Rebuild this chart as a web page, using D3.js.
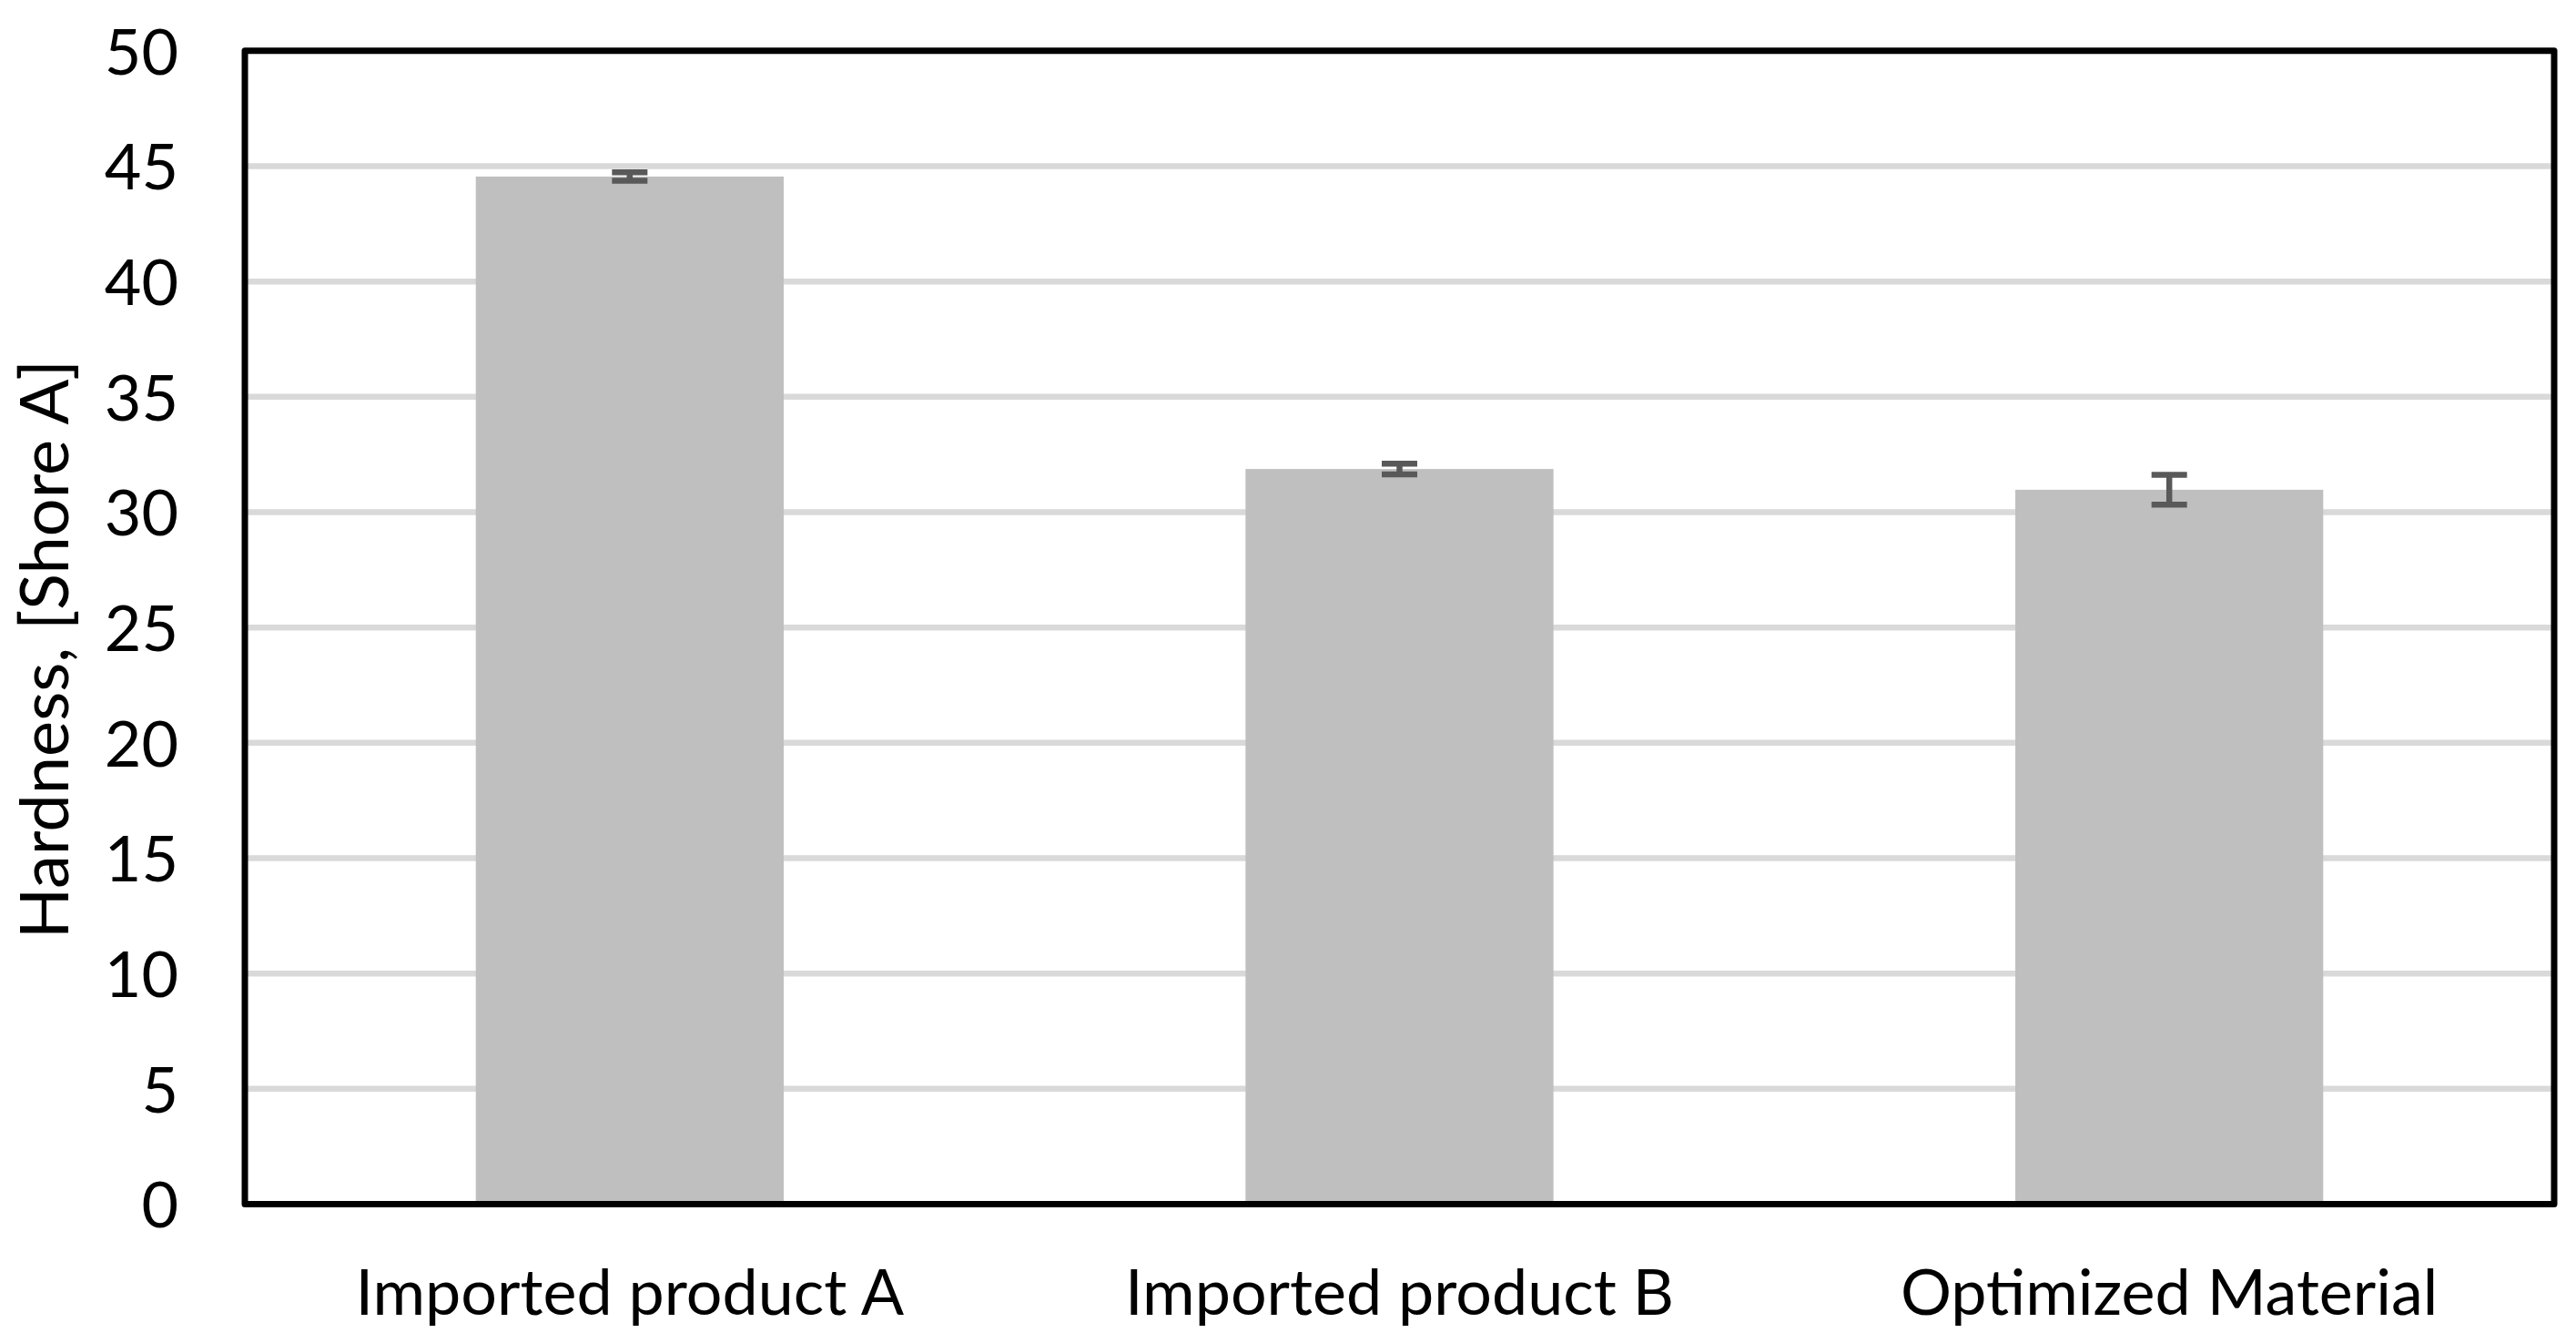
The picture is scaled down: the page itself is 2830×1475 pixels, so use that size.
<!DOCTYPE html>
<html>
<head>
<meta charset="utf-8">
<script src="https://cdn.jsdelivr.net/npm/d3@7"></script>
<style>
  html, body { margin: 0; padding: 0; background: #ffffff; }
  svg { display: block; }
  text { font-family: Lato, "Open Sans", sans-serif; fill: #000; }
</style>
</head>
<body>
<svg id="chart" width="2830" height="1475"></svg>
<script>
const categories = ["Imported product A", "Imported product B", "Optimized Material"];
const hardness = [44.55, 31.87, 30.97];
const hardnessErr = [0.18, 0.23, 0.65];
const yTicks = [0, 5, 10, 15, 20, 25, 30, 35, 40, 45, 50];
const yLabel = "Hardness, [Shore A]";

const W = 2830, H = 1475;
const margin = { left: 269, right: 2830 - 2806, top: 55.8, bottom: 1475 - 1322.5 };
const svg = d3.select("#chart");

const x = d3.scaleBand()
  .domain(categories)
  .range([margin.left, W - margin.right])
  .paddingInner(0.6)
  .paddingOuter(0.3);

const y = d3.scaleLinear().domain([0, 50]).range([H - margin.bottom, margin.top]);

// gridlines
svg.append("g")
  .selectAll("line")
  .data(yTicks.filter(d => d > 0 && d < 50))
  .join("line")
  .attr("x1", margin.left).attr("x2", W - margin.right)
  .attr("y1", d => y(d)).attr("y2", d => y(d))
  .attr("stroke", "#d9d9d9").attr("stroke-width", 6.5);

// bars
const data = categories.map((c, i) => ({ c, v: hardness[i], e: hardnessErr[i] }));
svg.append("g")
  .selectAll("rect")
  .data(data)
  .join("rect")
  .attr("x", d => x(d.c))
  .attr("width", x.bandwidth())
  .attr("y", d => y(d.v))
  .attr("height", d => y(0) - y(d.v))
  .attr("fill", "#bfbfbf");

// error bars
const eb = svg.append("g").attr("stroke", "#595959").attr("stroke-width", 6.5);
const capW = 39;
data.forEach(d => {
  const cx = x(d.c) + x.bandwidth() / 2;
  eb.append("line").attr("x1", cx).attr("x2", cx).attr("y1", y(d.v + d.e)).attr("y2", y(d.v - d.e));
  eb.append("line").attr("x1", cx - capW / 2).attr("x2", cx + capW / 2).attr("y1", y(d.v + d.e)).attr("y2", y(d.v + d.e));
  eb.append("line").attr("x1", cx - capW / 2).attr("x2", cx + capW / 2).attr("y1", y(d.v - d.e)).attr("y2", y(d.v - d.e));
});

// frame
svg.append("rect")
  .attr("x", margin.left).attr("y", margin.top)
  .attr("width", W - margin.right - margin.left)
  .attr("height", H - margin.bottom - margin.top)
  .attr("fill", "none").attr("stroke", "#000").attr("stroke-width", 7)
  .attr("stroke-linejoin", "round");

// y axis labels
const yAxis = d3.axisLeft(y).tickValues(yTicks).tickSize(0).tickPadding(73);
const gy = svg.append("g").attr("transform", `translate(${margin.left},0)`).call(yAxis);
gy.select(".domain").remove();
gy.selectAll("text").attr("font-size", 70).attr("font-family", "Lato").attr("fill", "#000").attr("dy", "0.36em");

// x axis labels
const xAxis = d3.axisBottom(x).tickSize(0).tickPadding(0);
const gx = svg.append("g").attr("transform", `translate(0,1444)`).call(xAxis);
gx.select(".domain").remove();
gx.selectAll("text").attr("font-size", 70).attr("font-family", "Lato").attr("fill", "#000").attr("dy", 0).attr("y", 0);

// y title
svg.append("text")
  .attr("transform", `translate(75,${(margin.top + H - margin.bottom) / 2 + 24}) rotate(-90)`)
  .attr("text-anchor", "middle")
  .attr("font-size", 74)
  .text(yLabel);
</script>
</body>
</html>
